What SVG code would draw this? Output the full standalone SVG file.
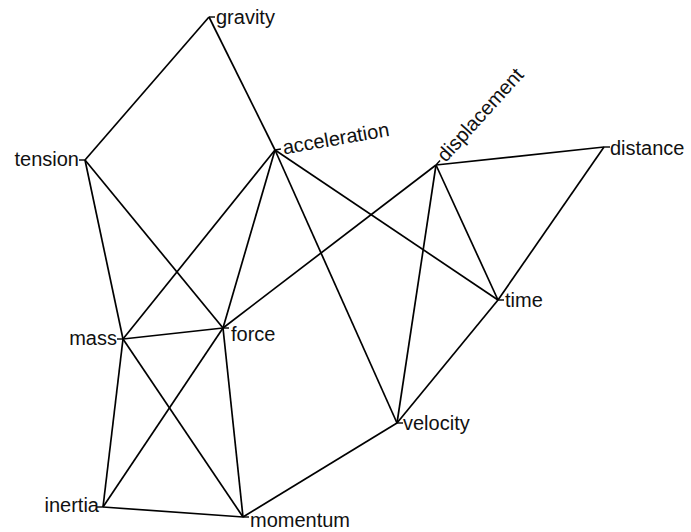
<svg xmlns="http://www.w3.org/2000/svg" width="691" height="532" viewBox="0 0 691 532">
<style>
.e line{stroke:#000;stroke-width:1.7;fill:none}
.n line{stroke:#000;stroke-width:1.4}
.n text{font-family:"Liberation Sans",Arial,sans-serif;font-size:20px;fill:#111}
.l text{text-anchor:end}
</style>
<rect width="691" height="532" fill="#fff"/>
<g id="connectors" class="e">
<line x1="209" y1="17" x2="85" y2="160"/>
<line x1="209" y1="17" x2="275" y2="150"/>
<line x1="85" y1="160" x2="223" y2="328"/>
<line x1="85" y1="160" x2="123" y2="339"/>
<line x1="275" y1="150" x2="123" y2="339"/>
<line x1="275" y1="150" x2="223" y2="328"/>
<line x1="275" y1="150" x2="397" y2="423"/>
<line x1="275" y1="150" x2="498" y2="300"/>
<line x1="436" y1="165" x2="604" y2="147"/>
<line x1="436" y1="165" x2="223" y2="328"/>
<line x1="436" y1="165" x2="498" y2="300"/>
<line x1="436" y1="165" x2="397" y2="423"/>
<line x1="604" y1="147" x2="498" y2="300"/>
<line x1="498" y1="300" x2="397" y2="423"/>
<line x1="123" y1="339" x2="223" y2="328"/>
<line x1="123" y1="339" x2="103" y2="507"/>
<line x1="123" y1="339" x2="243" y2="517"/>
<line x1="223" y1="328" x2="103" y2="507"/>
<line x1="223" y1="328" x2="243" y2="517"/>
<line x1="103" y1="507" x2="243" y2="517"/>
<line x1="397" y1="423" x2="243" y2="517"/>
</g>
<g id="gravity" class="n" transform="translate(209,17)"><line x1="0" y1="0" x2="6" y2="0"/><text x="7" y="7">gravity</text></g>
<g id="tension" class="n l" transform="translate(85,160)"><line x1="-6" y1="0" x2="0" y2="0"/><text x="-6" y="6">tension</text></g>
<g id="acceleration" class="n" transform="translate(275,150) rotate(-10)"><line x1="0" y1="0" x2="6" y2="0"/><text x="8" y="6">acceleration</text></g>
<g id="displacement" class="n" transform="translate(436,165) rotate(-48)"><line x1="0" y1="0" x2="6" y2="0"/><text x="8" y="6">displacement</text></g>
<g id="distance" class="n" transform="translate(604,147)"><line x1="0" y1="0" x2="6" y2="0"/><text x="6" y="8">distance</text></g>
<g id="time" class="n" transform="translate(498,300)"><line x1="0" y1="0" x2="6" y2="0"/><text x="7" y="7">time</text></g>
<g id="mass" class="n l" transform="translate(123,339)"><line x1="-6" y1="0" x2="0" y2="0"/><text x="-6" y="6">mass</text></g>
<g id="force" class="n" transform="translate(223,328)"><line x1="0" y1="0" x2="6" y2="0"/><text x="8" y="13">force</text></g>
<g id="velocity" class="n" transform="translate(397,423)"><line x1="0" y1="0" x2="6" y2="0"/><text x="6" y="7">velocity</text></g>
<g id="inertia" class="n l" transform="translate(103,507)"><line x1="-6" y1="0" x2="0" y2="0"/><text x="-4" y="5">inertia</text></g>
<g id="momentum" class="n" transform="translate(243,517)"><line x1="0" y1="0" x2="6" y2="0"/><text x="7" y="10">momentum</text></g>
</svg>
